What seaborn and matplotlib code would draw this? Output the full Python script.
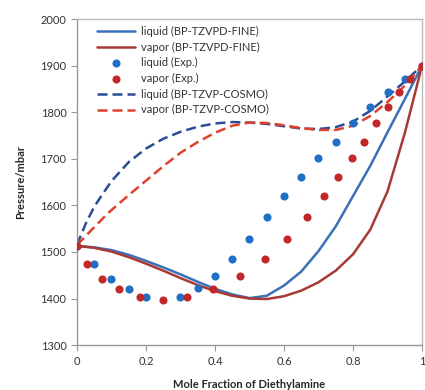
import numpy as np
import pandas as pd
import seaborn as sns
import matplotlib.pyplot as plt

sns.set_style("ticks")
plt.rcParams['font.family'] = ['Lato', 'DejaVu Sans']

# composition grid for the model curves
x_fine = [0, 0.05, 0.1, 0.15, 0.2, 0.25, 0.3, 0.35, 0.4, 0.45, 0.5,
          0.55, 0.6, 0.65, 0.7, 0.75, 0.8, 0.85, 0.9, 0.95, 1.0]
liq_fine = [1513, 1510, 1504, 1494, 1481, 1467, 1452, 1436, 1421, 1409, 1401,
            1406, 1428, 1458, 1502, 1555, 1620, 1685, 1757, 1828, 1900]
vap_fine = [1513, 1509, 1501, 1489, 1475, 1460, 1444, 1429, 1416, 1406, 1400,
            1399, 1405, 1417, 1435, 1460, 1495, 1548, 1630, 1755, 1900]

x_cosmo = [0, 0.025, 0.05, 0.075, 0.1, 0.15, 0.2, 0.25, 0.3, 0.35, 0.4, 0.45, 0.5,
           0.55, 0.6, 0.65, 0.7, 0.75, 0.8, 0.85, 0.9, 0.95, 1.0]
liq_cosmo = [1515, 1560, 1597, 1625, 1652, 1693, 1722, 1743, 1758, 1769, 1776, 1779, 1778,
             1775, 1770, 1765, 1764, 1768, 1780, 1803, 1834, 1866, 1900]
vap_cosmo = [1515, 1534, 1553, 1572, 1590, 1622, 1653, 1684, 1713, 1736, 1756, 1771, 1778,
             1777, 1772, 1766, 1762, 1762, 1771, 1792, 1822, 1857, 1900]

# experimental data
x_liq_exp = [0, 0.05, 0.1, 0.15, 0.2, 0.3, 0.35, 0.4, 0.45, 0.5, 0.55, 0.6,
             0.65, 0.7, 0.75, 0.8, 0.85, 0.9, 0.95, 1.0]
p_liq_exp = [1513, 1474, 1442, 1420, 1404, 1404, 1422, 1448, 1486, 1528, 1575, 1620,
             1661, 1701, 1737, 1776, 1812, 1844, 1871, 1900]
x_vap_exp = [0, 0.03, 0.073, 0.122, 0.183, 0.25, 0.32, 0.395, 0.472, 0.545, 0.61, 0.666,
             0.716, 0.757, 0.796, 0.832, 0.867, 0.902, 0.933, 0.965, 1.0]
p_vap_exp = [1513, 1474, 1442, 1420, 1404, 1398, 1404, 1421, 1448, 1486, 1528, 1575,
             1620, 1661, 1701, 1737, 1776, 1812, 1844, 1871, 1900]

fig = plt.figure(figsize=[4.25, 3.9], dpi=100)
ax = fig.add_axes([0.181, 0.115, 0.812, 0.836])

sns.lineplot(x=x_fine, y=liq_fine, sort=False, estimator=None, color='#3a70b8',
             linewidth=1.8, label='liquid (BP-TZVPD-FINE)', ax=ax)
sns.lineplot(x=x_fine, y=vap_fine, sort=False, estimator=None, color='#a83a35',
             linewidth=1.8, label='vapor (BP-TZVPD-FINE)', ax=ax)
sns.scatterplot(x=x_liq_exp, y=p_liq_exp, color='#1f6fc6', s=34, linewidth=0,
                label='liquid (Exp.)', ax=ax, zorder=3)
sns.scatterplot(x=x_vap_exp, y=p_vap_exp, color='#c4272a', s=34, linewidth=0,
                label='vapor (Exp.)', ax=ax, zorder=3)
sns.lineplot(x=x_cosmo, y=liq_cosmo, sort=False, estimator=None, color='#2c4c96',
             linewidth=1.8, dashes=False, label='liquid (BP-TZVP-COSMO)', ax=ax)
sns.lineplot(x=x_cosmo, y=vap_cosmo, sort=False, estimator=None, color='#e0412c',
             linewidth=1.8, dashes=False, label='vapor (BP-TZVP-COSMO)', ax=ax)
ax.lines[-2].set_dashes([4, 2])
ax.lines[-1].set_dashes([4, 2])

ax.set_xlim(0, 1)
ax.set_ylim(1300, 2000)
ax.set_xticks([0, 0.2, 0.4, 0.6, 0.8, 1])
ax.set_xticklabels(['0', '0.2', '0.4', '0.6', '0.8', '1'])
ax.set_yticks(range(1300, 2001, 100))
ax.tick_params(labelsize=8, colors='#333333', length=4, width=0.8)
ax.tick_params(color='#999999')
for sp in ax.spines.values():
    sp.set_color('#bbbbbb')
    sp.set_linewidth(1)
ax.spines['left'].set_color('#999999')
ax.spines['bottom'].set_color('#999999')

ax.set_xlabel("Mole Fraction of Diethylamine", fontsize=8, fontweight='bold', labelpad=9)
ax.set_ylabel("Pressure/mbar", fontsize=8, fontweight='bold', labelpad=10)

leg = ax.legend(loc='upper left', frameon=False, fontsize=8, handlelength=3.4,
                handletextpad=0.5, labelspacing=0.42, borderaxespad=0.2,
                bbox_to_anchor=(0.04, 1.0))
for t in leg.get_texts():
    t.set_color('#333333')

plt.savefig("out.png", dpi=100)
